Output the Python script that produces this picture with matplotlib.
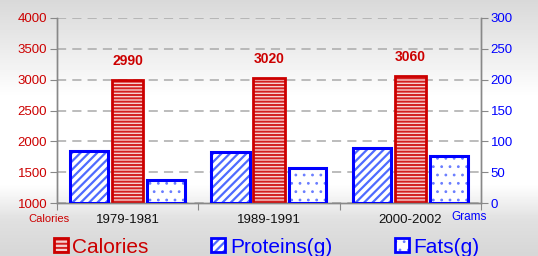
import numpy as np
import matplotlib
matplotlib.use("Agg")
import matplotlib.pyplot as plt
from matplotlib.patches import Rectangle

categories = ["1979-1981", "1989-1991", "2000-2002"]
calories = [2990, 3020, 3060]
proteins = [84, 82, 89]
fats = [37, 56, 76]

RED = "#cc0000"
BLUE = "#0000ff"

plt.rcParams['font.family'] = ['Liberation Sans', 'DejaVu Sans']
plt.rcParams['hatch.linewidth'] = 1.5
fig = plt.figure(figsize=(5.38, 2.56), dpi=100)

# background gradient
bg = fig.add_axes([0, 0, 1, 1], zorder=-10)
yy = np.linspace(0, 1, 256)  # 0 top -> 1 bottom
vals = np.interp(yy, [0, 0.08, 0.38, 0.72, 0.86, 1.0], [0.85, 0.88, 1.0, 1.0, 0.88, 0.84])
img = np.repeat(vals[:, None], 10, axis=1)
bg.imshow(img, cmap='gray', vmin=0, vmax=1, aspect='auto', extent=[0, 1, 0, 1])
bg.axis('off')

ax = fig.add_axes([57/538, 1-203/256, (481-57)/538, (203-18)/256])
ax.patch.set_alpha(0)
ax2 = ax.twinx()

x = np.arange(len(categories)) + 0.5

def hbar(axis, xs, hs, bottom, width, hatch, hcolor, face, ecolor, lw, hlw=1.5):
    with plt.rc_context({'hatch.linewidth': hlw}):
        axis.bar(xs, [h - bottom for h in hs], width=width, bottom=bottom,
                 color=face, edgecolor=hcolor, hatch=hatch, linewidth=0, zorder=3)
    axis.bar(xs, [h - bottom for h in hs], width=width, bottom=bottom,
             fill=False, edgecolor=ecolor, linewidth=lw, zorder=4)

hbar(ax, x, calories, 1000, 0.22, '-----', '#d42020', '#f6d0d0', RED, 2.0, 1.4)
hbar(ax2, x - 0.272, proteins, 0, 0.27, '////', '#4f6bff', 'white', BLUE, 2.2, 1.6)
hbar(ax2, x + 0.272, fats, 0, 0.265, '..', '#6a7dff', 'white', BLUE, 2.2, 0.8)

for xi, c in zip(x, calories):
    ax.text(xi, c + 310, str(c), ha='center', va='center', color=RED,
            fontsize=10, fontweight='bold')

ax.set_xlim(0, 3)
ax.set_ylim(1000, 4000)
ax.set_yticks(range(1000, 4001, 500))
ax2.set_ylim(0, 300)
ax2.set_yticks(range(0, 301, 50))
ax.set_xticks([0, 1, 2, 3])
ax.set_xticklabels([])
ax.set_xticks(x, minor=True)
ax.set_xticklabels(categories, minor=True, fontsize=9.5, color='#111111')
ax.tick_params(axis='x', which='minor', length=0, pad=8)
ax.tick_params(axis='x', which='major', length=5, color='#888888', direction='out')
ax.tick_params(axis='y', labelsize=9.5, length=5, color='#888888', pad=2)
for lbl in ax.get_yticklabels():
    lbl.set_color(RED)
ax2.tick_params(axis='y', labelsize=9.5, length=5, color='#888888', pad=2)
for lbl in ax2.get_yticklabels():
    lbl.set_color(BLUE)

ax.yaxis.grid(True, linestyle=(0, (6, 4)), color='#aaaaaa', linewidth=1.1, zorder=0)
ax.set_axisbelow(True)
for a in (ax, ax2):
    a.spines['top'].set_visible(False)
    for s in ('left', 'right', 'bottom'):
        a.spines[s].set_color('#888888')
        a.spines[s].set_linewidth(1.0)

fig.text(28/538, 1-219/256, "Calories", color=RED, fontsize=8, ha='left', va='center')
fig.text(451/538, 1-217/256, "Grams", color=BLUE, fontsize=8.5, ha='left', va='center')

# legend
def legend_item(xpix, tx, label, hatch, hcolor, face, ecolor, tcolor, hlw):
    w, h = 14/538, 14/256
    xf = xpix/538
    yf = 1-252/256
    with plt.rc_context({'hatch.linewidth': hlw}):
        fig.patches.append(Rectangle((xf, yf), w, h, transform=fig.transFigure,
                                     facecolor=face, edgecolor=hcolor, hatch=hatch, linewidth=0))
    fig.patches.append(Rectangle((xf, yf), w, h, transform=fig.transFigure,
                                 fill=False, edgecolor=ecolor, linewidth=2))
    fig.text(tx/538, 1-253/256, label, color=tcolor, fontsize=15, ha='left', va='baseline')

legend_item(54, 72, "Calories", '----', '#d42020', '#f6d0d0', RED, RED, 1.4)
legend_item(211, 230, "Proteins(g)", '////', '#4f6bff', 'white', BLUE, BLUE, 1.6)
legend_item(395, 413, "Fats(g)", '..', '#6a7dff', 'white', BLUE, BLUE, 0.8)

fig.savefig("out.png", dpi=100)
